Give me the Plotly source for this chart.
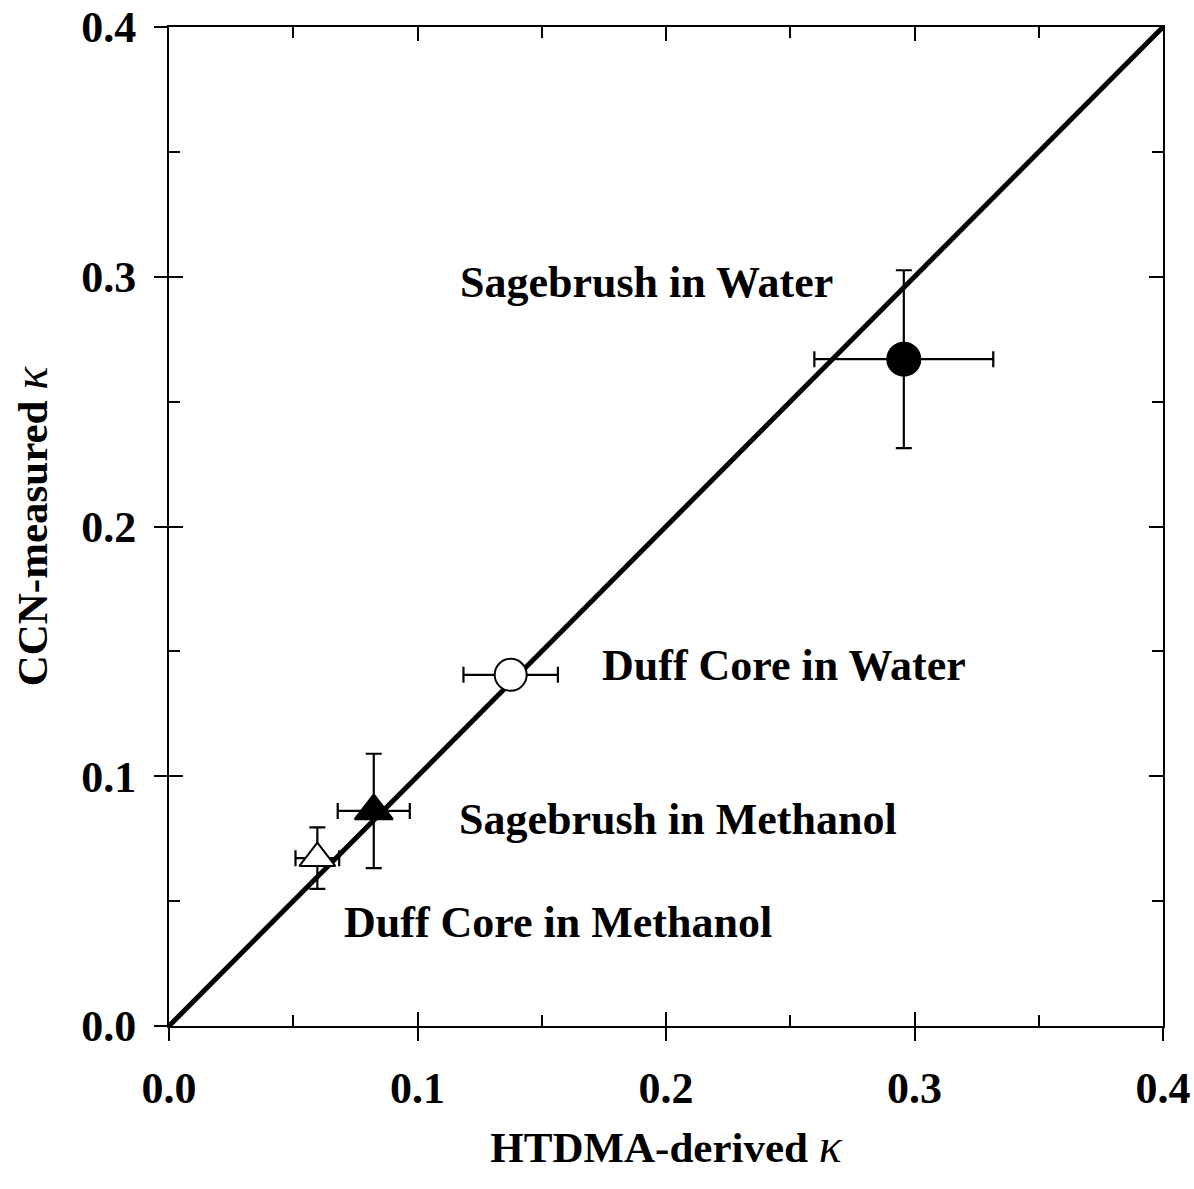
import plotly.graph_objects as go

# Hygroscopicity parameter kappa for each extract
samples = ["Sagebrush in Water", "Duff Core in Water",
           "Sagebrush in Methanol", "Duff Core in Methanol"]
htdma_kappa = [0.2957, 0.1375, 0.0824, 0.0597]
htdma_err = [0.036, 0.019, 0.0145, 0.0088]
ccn_kappa = [0.267, 0.1406, 0.0861, 0.0672]
ccn_err = [0.0356, None, 0.0229, 0.0123]
symbols = ["circle", "circle", "triangle-up", "triangle-up"]
fills = ["black", "white", "black", "white"]
sizes = [33, 32, 33, 31]

# label anchor positions (data units)
label_x = [0.192, 0.2474, 0.2049, 0.1565]
label_y = [0.2975, 0.1445, 0.0825, 0.0415]

one_to_one = [0.0, 0.4]
tick_vals = [0.0, 0.1, 0.2, 0.3, 0.4]
tick_text = ["0.0", "0.1", "0.2", "0.3", "0.4"]

FONT = "Liberation Serif"

fig = go.Figure()

# 1:1 line
fig.add_trace(go.Scatter(x=one_to_one, y=one_to_one, mode="lines",
                         line=dict(color="black", width=5),
                         showlegend=False, hoverinfo="skip"))

for i, name in enumerate(samples):
    ey = dict(type="data", array=[ccn_err[i]], color="black",
              thickness=2.2, width=8, visible=ccn_err[i] is not None)
    fig.add_trace(go.Scatter(
        x=[htdma_kappa[i]], y=[ccn_kappa[i]], mode="markers", name=name,
        marker=dict(symbol=symbols[i], size=sizes[i], color=fills[i],
                    line=dict(color="black", width=2)),
        error_x=dict(type="data", array=[htdma_err[i]], color="black",
                     thickness=2.2, width=8),
        error_y=ey,
        showlegend=False))

# overlay axes carrying the outward half of the major ticks
fig.add_trace(go.Scatter(x=htdma_kappa, y=ccn_kappa, xaxis="x2", yaxis="y2",
                         mode="markers", marker=dict(opacity=0),
                         showlegend=False, hoverinfo="skip"))

for i, name in enumerate(samples):
    fig.add_annotation(x=label_x[i], y=label_y[i], text="<b>%s</b>" % name,
                       showarrow=False, xanchor="center", yanchor="middle",
                       font=dict(family=FONT, size=44, color="black"))

tickfont = dict(family=FONT, size=44, color="black")
common = dict(range=[0, 0.4], tickmode="array", tickvals=tick_vals,
              ticktext=["<b>%s</b>" % t for t in tick_text],
              showgrid=False, zeroline=False, automargin=False)
title_font = dict(family=FONT, size=43, color="black")
kappa = "<i><span style='font-size:48px'>κ</span></i>"

fig.update_layout(
    width=1194, height=1189,
    margin=dict(l=169, r=31, t=27, b=163, pad=0, autoexpand=False),
    paper_bgcolor="white", plot_bgcolor="white",
    xaxis=dict(**common, ticks="inside", ticklen=14, tickwidth=1.5,
               tickcolor="black", mirror="ticks", showline=True,
               linecolor="black", linewidth=2, tickfont=tickfont,
               ticklabelstandoff=22,
               minor=dict(ticks="inside", ticklen=11, tickwidth=1.5,
                          tickcolor="black", dtick=0.05, tick0=0),
               title=dict(text="<b>HTDMA-derived </b>" + kappa,
                          font=title_font, standoff=20)),
    yaxis=dict(**common, ticks="inside", ticklen=14, tickwidth=1.5,
               tickcolor="black", mirror="ticks", showline=True,
               linecolor="black", linewidth=2, tickfont=tickfont,
               ticklabelstandoff=22,
               minor=dict(ticks="inside", ticklen=11, tickwidth=1.5,
                          tickcolor="black", dtick=0.05, tick0=0),
               title=dict(text="<b>CCN-measured </b>" + kappa,
                          font=title_font, standoff=20)),
    xaxis2=dict(range=[0, 0.4], overlaying="x", matches="x", side="bottom",
                anchor="y2", tickmode="array", tickvals=tick_vals,
                ticks="outside", ticklen=14, tickwidth=1.5, tickcolor="black",
                showticklabels=False, showline=False, showgrid=False,
                zeroline=False, automargin=False),
    yaxis2=dict(range=[0, 0.4], overlaying="y", matches="y", side="left",
                anchor="x2", tickmode="array", tickvals=tick_vals,
                ticks="outside", ticklen=14, tickwidth=1.5, tickcolor="black",
                showticklabels=False, showline=False, showgrid=False,
                zeroline=False, automargin=False),
)

fig.write_html("out.html")
